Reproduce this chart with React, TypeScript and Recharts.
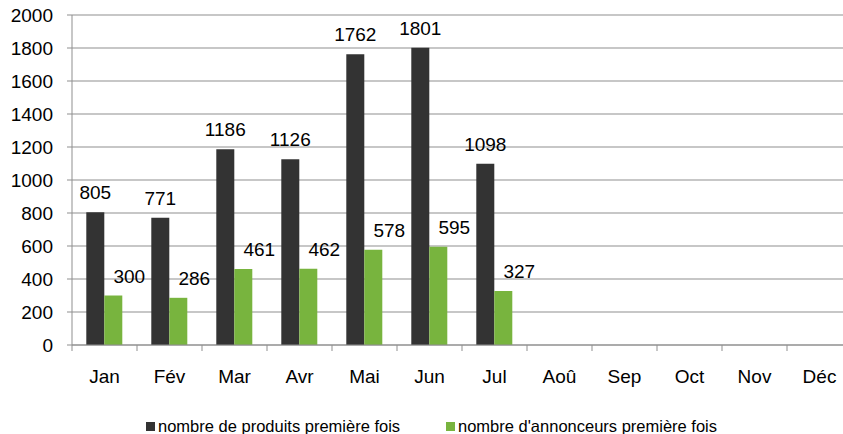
import { BarChart, Bar, XAxis, YAxis, CartesianGrid, LabelList } from "recharts";

const months = ["Jan", "Fév", "Mar", "Avr", "Mai", "Jun", "Jul", "Aoû", "Sep", "Oct", "Nov", "Déc"];
const produits = [805, 771, 1186, 1126, 1762, 1801, 1098, null, null, null, null, null];
const annonceurs = [300, 286, 461, 462, 578, 595, 327, null, null, null, null, null];
const yTicks = [0, 200, 400, 600, 800, 1000, 1200, 1400, 1600, 1800, 2000];

const seriesNames = ["nombre de produits première fois", "nombre d'annonceurs première fois"];

const DARK = "#333333";
const GREEN = "#78b43e";
const GRID = "#8f8f8f";
const FONT = "'Liberation Sans', Arial, sans-serif";

const CHART_W = 852;
const CHART_H = 434;
const Y_W = 72;
const CAT_W = (CHART_W - Y_W) / months.length;

const data = months.map((m, i) => ({
    month: m,
    produits: produits[i],
    annonceurs: annonceurs[i],
}));

function MonthTick(props: any) {
    const { x, y, payload } = props;
    const left = x - CAT_W / 2;
    return (
        <g>
            <line x1={left} y1={y} x2={left} y2={y + 6} stroke={GRID} strokeWidth={1} />
            <text x={x} y={y + 38} textAnchor="middle" fontSize={19} fontFamily={FONT} fill="#000">
                {payload.value}
            </text>
        </g>
    );
}

function makeLabel(shift: number) {
    return (props: any) => {
        const { x, y, width, value } = props;
        if (value == null) return null;
        return (
            <text
                x={x + width / 2 + shift}
                y={y - 13}
                textAnchor="middle"
                fontSize={19}
                fontFamily={FONT}
                fill="#000"
            >
                {value}
            </text>
        );
    };
}

export default function App() {
    return (
        <div style={{ position: "absolute", left: 0, top: 0, width: 843, height: CHART_H, overflow: "hidden", background: "#fff" }}>
            <BarChart
                width={CHART_W}
                height={CHART_H}
                data={data}
                margin={{ top: 15, right: 0, bottom: 0, left: 0 }}
                barCategoryGap="22%"
                barGap={0}
            >
                <CartesianGrid vertical={false} stroke={GRID} strokeWidth={1} />

                <XAxis
                    dataKey="month"
                    height={89}
                    interval={0}
                    tickLine={false}
                    tickSize={0}
                    tickMargin={0}
                    axisLine={{ stroke: GRID }}
                    tick={<MonthTick />}
                />

                <YAxis
                    width={Y_W}
                    domain={[0, 2000]}
                    ticks={yTicks}
                    interval={0}
                    tickSize={5}
                    tickMargin={14}
                    tickLine={{ stroke: GRID }}
                    axisLine={{ stroke: GRID }}
                    tick={{ fontSize: 19, fontFamily: FONT, fill: "#000" }}
                />

                <Bar dataKey="produits" fill={DARK} isAnimationActive={false}>
                    <LabelList dataKey="produits" content={makeLabel(0)} />
                </Bar>

                <Bar dataKey="annonceurs" fill={GREEN} isAnimationActive={false}>
                    <LabelList dataKey="annonceurs" content={makeLabel(16)} />
                </Bar>
            </BarChart>

            <div
                style={{
                    position: "absolute",
                    top: 417,
                    left: 0,
                    width: 843,
                    fontFamily: FONT,
                    fontSize: 16.5,
                    color: "#000",
                    lineHeight: "18px",
                }}
            >
                <div style={{ position: "absolute", left: 146, display: "flex", alignItems: "center", whiteSpace: "nowrap" }}>
                    <span style={{ display: "inline-block", width: 9, height: 9, background: DARK, marginRight: 3 }} />
                    {seriesNames[0]}
                </div>
                <div style={{ position: "absolute", left: 446, display: "flex", alignItems: "center", whiteSpace: "nowrap" }}>
                    <span style={{ display: "inline-block", width: 9, height: 9, background: GREEN, marginRight: 3 }} />
                    {seriesNames[1]}
                </div>
            </div>
        </div>
    );
}
